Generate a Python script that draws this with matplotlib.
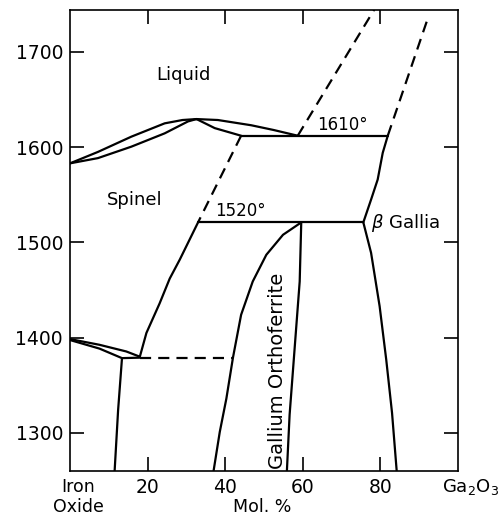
import matplotlib
matplotlib.use('Agg')
import matplotlib.pyplot as plt

# phase boundaries (mol. % Ga2O3, temperature in degC)
liq_spinel_x = [0, 7.2, 15.8, 24.4, 29.0, 32.6, 38.1, 46.7, 52.5, 58.7]
liq_spinel_t = [1583, 1595, 1611, 1625, 1628.5, 1629.5, 1628.5, 1623, 1618, 1612]

sol_spinel_x = [0, 7.2, 15.8, 24.4, 30.4, 32.6]
sol_spinel_t = [1583, 1588.5, 1600.5, 1614.5, 1627, 1629.5]

sol_spinel_r_x = [32.6, 37.3, 44.1]
sol_spinel_r_t = [1629.5, 1620, 1612]

iso1610_x = [44.1, 81.9]
iso1610_t = [1612, 1612]

iso1520_x = [33.0, 75.6]
iso1520_t = [1521, 1521]

spinel_dash_x = [44.1, 33.0]
spinel_dash_t = [1612, 1521]

spinel_sol_x = [33.0, 28.3, 25.7, 23.1, 19.7, 18.0]
spinel_sol_t = [1521, 1482, 1462, 1436, 1405, 1380]

lens_up_x = [0, 7.6, 14.5, 18.0]
lens_up_t = [1398.5, 1392.5, 1385.5, 1380]
lens_lo_x = [0, 7.6, 13.4, 18.0]
lens_lo_t = [1397.5, 1388.5, 1378.5, 1379]

iso1380_x = [18.0, 42.0]
iso1380_t = [1379, 1379]

wus_x = [13.4, 12.4, 11.5]
wus_t = [1378.5, 1324, 1260]

ortho_l_x = [37.0, 38.6, 40.3, 42.0, 44.1, 47.1, 50.6, 54.9, 59.6]
ortho_l_t = [1260, 1301, 1336, 1379, 1424, 1459, 1487, 1508, 1521]
ortho_r_x = [59.6, 59.2, 57.9, 56.6, 55.9]
ortho_r_t = [1521, 1459, 1389, 1319, 1260]

gallia_x = [75.6, 77.6, 79.8, 81.5, 83.0, 84.2]
gallia_t = [1521, 1489, 1433, 1377, 1321, 1260]
gallia_liq_x = [75.6, 77.6, 79.3, 80.6, 81.9]
gallia_liq_t = [1521, 1545, 1566, 1594, 1612]

dash_hi_x = [58.7, 78.5]
dash_hi_t = [1612, 1745]
dash_ga_x = [81.9, 92.2]
dash_ga_t = [1612, 1735]

x_ticks = [20, 40, 60, 80]
t_ticks = [1300, 1400, 1500, 1600, 1700]

fig = plt.figure(figsize=(5.02, 5.18), dpi=100)
ax = fig.add_axes([70 / 502, 47 / 518, 388 / 502, 461 / 518])

solid = dict(color='black', lw=1.6, solid_capstyle='round', solid_joinstyle='round')
dashed = dict(color='black', lw=1.6, dashes=(5, 3.2))

for xs, ts in [(liq_spinel_x, liq_spinel_t), (sol_spinel_x, sol_spinel_t),
               (sol_spinel_r_x, sol_spinel_r_t), (iso1610_x, iso1610_t),
               (iso1520_x, iso1520_t), (spinel_sol_x, spinel_sol_t),
               (lens_up_x, lens_up_t), (lens_lo_x, lens_lo_t),
               (wus_x, wus_t), (ortho_l_x, ortho_l_t), (ortho_r_x, ortho_r_t),
               (gallia_x, gallia_t), (gallia_liq_x, gallia_liq_t)]:
    ax.plot(xs, ts, **solid)

for xs, ts in [(spinel_dash_x, spinel_dash_t), (iso1380_x, iso1380_t),
               (dash_hi_x, dash_hi_t), (dash_ga_x, dash_ga_t)]:
    ax.plot(xs, ts, **dashed)

ax.set_xlim(0, 100)
ax.set_ylim(1260, 1744)
ax.set_xticks(x_ticks)
ax.set_yticks(t_ticks)
ax.set_xticklabels([str(v) for v in x_ticks])
ax.set_yticklabels([str(v) for v in t_ticks])
ax.tick_params(direction='in', length=10, width=1.2, labelsize=13.5, pad=5,
               top=True, right=True)
for s in ax.spines.values():
    s.set_linewidth(1.2)

# region labels
ax.text(29.3, 1676, 'Liquid', fontsize=13, ha='center', va='center')
ax.text(16.6, 1545, 'Spinel', fontsize=13, ha='center', va='center')
ax.text(43.8, 1533, '1520°', fontsize=12, ha='center', va='center')
ax.text(70.3, 1623, '1610°', fontsize=12, ha='center', va='center')
ax.text(77.6, 1520, r'$\beta$ Gallia', fontsize=13, ha='left', va='center')
ax.text(53.4, 1365, 'Gallium Orthoferrite', fontsize=14, ha='center',
        va='center', rotation=90)

# axis end labels
fig.text(78 / 502, 1 - 497 / 518, 'Iron\nOxide', fontsize=12.5, ha='center',
         va='center', linespacing=1.15)
fig.text(262 / 502, 1 - 507 / 518, 'Mol. %', fontsize=12.5, ha='center',
         va='center')
fig.text(470 / 502, 1 - 487 / 518, r'Ga$_2$O$_3$', fontsize=13, ha='center',
         va='center')

fig.savefig('out.png', dpi=100)
